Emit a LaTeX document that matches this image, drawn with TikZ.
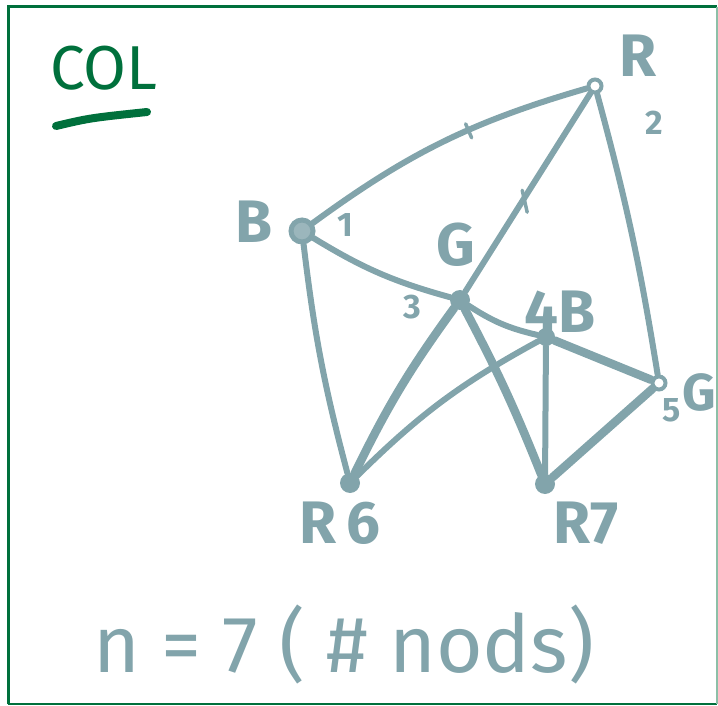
\documentclass[tikz,border=0pt]{standalone}
\usepackage{fontspec}
\setmainfont{Fira Sans}
\usepackage{tikz}
\usetikzlibrary{calc, positioning}
\definecolor{ink}{HTML}{82A4AB}
\definecolor{pen}{HTML}{00703C}

\begin{document}
\begin{tikzpicture}[x=1pt,y=-1pt,
    edge/.style={ink,line width=6pt,line cap=round},
    heavy/.style={ink,line width=8.5pt,line cap=round},
    dot/.style={circle,fill=ink,inner sep=0pt,minimum size=20pt},
    ring/.style={circle,draw=ink,fill=ink!80,line width=5pt,inner sep=0pt,minimum size=22pt},
    loop/.style={circle,draw=ink,line width=4pt,inner sep=0pt,minimum size=13pt},
    lab/.style={ink,font=\fontsize{60}{60}\selectfont\bfseries},
    num/.style={ink,font=\fontsize{34}{34}\selectfont\bfseries}]
    \useasboundingbox (0,0) rectangle (718,706);
    % Rahmen
    \draw[pen,line width=3pt] (8,704) -- (8,7) -- (717,7);
    \draw[pen,line width=2pt] (8,704) -- (717,704);
    \draw[pen!45,line width=1.5pt] (717,7) -- (717,704);
    % Titel
    \node[pen,font=\fontsize{62}{62}\selectfont] (title) at (104,68) {COL};
    \draw[pen,line width=8pt,line cap=round] (56,126) .. controls (90,118) .. (147,112);
    % Knoten
    \node[ring] (v1) at (302,231) {};
    \node[loop] (v2) at (595,86) {};
    \node[dot] (v3) at (460,300) {};
    \node[dot,minimum size=18pt] (v4) at (546,337) {};
    \node[loop] (v5) at (659,383) {};
    \node[dot] (v6) at (350,483) {};
    \node[dot] (v7) at (545,484) {};
    % Kanten
    \draw[edge] (v1) to[bend left=10] coordinate[pos=0.6] (t12) (v2);
    \draw[edge] (v1) to[bend right=8] (v3);
    \draw[edge] (v1) to[bend right=4] (v6);
    \draw[edge] (v2) -- coordinate[pos=0.53] (t23) (v3);
    \draw[edge] (v2) to[bend left=3] (v5);
    \draw[edge] (v3) to[bend right=10] (v4);
    \draw[heavy] (v3) to[bend right=5] (v6);
    \draw[heavy] (v3) to[bend left=3] (v7);
    \draw[edge] (v4) to[bend right=8] (v6);
    \draw[edge] (v4) -- (v7);
    \draw[heavy] (v4) -- (v5);
    \draw[heavy] (v5) -- (v7);
    % Striche
    \draw[ink,line width=3.5pt,line cap=round] ($(t12)+(-3,-6)$) -- ($(t12)+(3,8)$);
    \draw[ink,line width=3.5pt,line cap=round] ($(t23)+(-2,-8)$) -- ($(t23)+(3,14)$);
    % Farben
    \node[lab] (l1) at (254,222) {B};
    \node[num] (n1) at (345,225) {1};
    \node[lab] (l2) at (638,56) {R};
    \node[num] (n2) at (654,123) {2};
    \node[lab] (l3) at (456,245) {G};
    \node[num] (n3) at (412,307) {3};
    \node[lab] (l4) at (560,312) {4B};
    \node[lab,font=\fontsize{52}{52}\selectfont\bfseries] (l5) at (699,392) {G};
    \node[num] (n5) at (672,410) {5};
    \node[lab] (l6) at (340,523) {R\,6};
    \node[lab] (l7) at (586,523) {R7};
    % Anzahl
    \node[ink,font=\fontsize{80}{80}\selectfont,anchor=base west] (count) at (90,672) {n = 7 ( \# nods)};
\end{tikzpicture}
\end{document}
